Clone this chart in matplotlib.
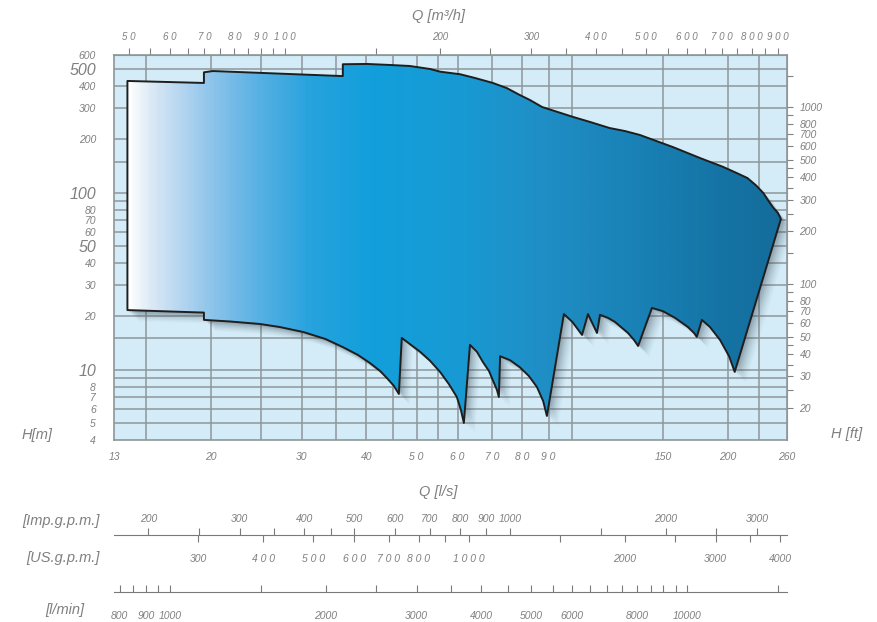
import numpy as np
import matplotlib
matplotlib.use('Agg')
import matplotlib.pyplot as plt
import matplotlib.patheffects as pe
from matplotlib.patches import Polygon
from matplotlib.image import AxesImage
from matplotlib.colors import LinearSegmentedColormap
from matplotlib.ticker import NullLocator, NullFormatter

plt.rcParams['font.family'] = ['Liberation Sans', 'DejaVu Sans']
plt.rcParams['font.style'] = 'italic'

# Axis ranges: Q in l/s, H in m
q_min, q_max = 13, 260
h_min, h_max = 4, 600

# Envelope of the pump range, upper edge from left to right
top_q = [13.8, 19.4, 19.4, 20.2, 36.0, 36.0, 40.1, 44.4, 48.5, 53.1, 55.5, 60.7,
         64.8, 70.2, 74.7, 79.2, 82.8, 87.4, 100.3, 108.2, 118, 126.4, 135, 156.5,
         176.5, 195.5, 208, 218, 226.5, 234, 238.8, 244, 249.7, 253]
top_h = [428, 417, 479, 487, 456, 532, 534, 527, 520, 500, 483, 467,
         445, 417, 390, 356, 334, 305, 268, 251, 232, 223, 212, 181,
         157, 140, 129, 121, 110, 99.6, 90.9, 83, 76.8, 71]

# lower edge from right to left
bottom_q = [206, 200.9, 193, 184.5, 178,
            174, 171.9, 167.3, 158, 149.6, 142.5,
            134, 131.6, 128.1, 120.9, 117.2, 113.1,
            111.6, 107.2, 104.4, 100, 96.3,
            89.3, 87.8, 85.4, 82.4, 79.2, 75.8, 72.5,
            72.1, 71.5, 70.2, 69.0, 67.2, 65.4, 63.4,
            61.7, 60.9, 59.8, 57.7, 55.5, 53.1, 50.8, 48.5, 46.8,
            46.2, 45.2, 43.8, 42.5, 40.6, 38.5, 36.0, 33.3, 30.2, 27.2, 24.9, 21.8,
            19.4, 19.4, 13.8]
bottom_h = [9.7, 11.9, 14.7, 17.4, 19.1,
            15.3, 16.1, 17.4, 19.6, 21.4, 22.3,
            13.6, 14.7, 16.1, 18.6, 19.6, 20.4,
            16.1, 20.6, 15.7, 18.6, 20.6,
            5.47, 6.65, 7.98, 9.2, 10.3, 11.3, 11.9,
            7.0, 7.67, 8.7, 9.82, 11.0, 12.6, 13.8,
            4.99, 5.91, 7.0, 8.29, 9.7, 11.2, 12.6, 13.95, 15.1,
            7.28, 8.08, 8.96, 9.82, 10.9, 12.1, 13.4, 14.9, 16.3, 17.4, 18.1, 18.7,
            19.1, 21.0, 21.7]

grid_q = [15, 20, 25, 30, 35, 40, 45, 50, 55, 60, 70, 80, 90, 100, 150, 200, 230]
grid_h = [5, 6, 7, 8, 9, 10, 15, 20, 30, 40, 50, 60, 70, 80, 90, 100, 150, 200, 300, 400, 500]

ls_ticks = [13, 20, 30, 40, 50, 60, 70, 80, 90, 150, 200, 260]
ls_labels = ['13', '20', '30', '40', '5 0', '6 0', '7 0', '8 0', '9 0', '150', '200', '260']

m3h_ticks = [50, 60, 70, 80, 90, 100, 200, 300, 400, 500, 600, 700, 800, 900]
m3h_labels = ['5 0', '6 0', '7 0', '8 0', '9 0', '1 0 0', '200', '300',
              '4 0 0', '5 0 0', '6 0 0', '7 0 0', '8 0 0', '9 0 0']
m3h_minor = [55, 65, 75, 85, 95, 150, 250, 350, 450, 550, 650, 750, 850]

hm_ticks = [4, 5, 6, 7, 8, 10, 20, 30, 40, 50, 60, 70, 80, 100, 200, 300, 400, 500, 600]
hm_big = [10, 50, 100, 500]

ft_ticks = [20, 30, 40, 50, 60, 70, 80, 100, 200, 300, 400, 500, 600, 700, 800, 1000]
ft_minor = [25, 35, 45, 90, 150, 250, 350, 450, 900, 1500]

imp_ticks = [200, 300, 400, 500, 600, 700, 800, 900, 1000, 2000, 3000]
imp_minor = [250, 350, 450, 1500, 2500]
us_ticks = [300, 400, 500, 600, 700, 800, 1000, 2000, 3000, 4000]
us_labels = ['300', '4 0 0', '5 0 0', '6 0 0', '7 0 0', '8 0 0', '1 0 0 0', '2000', '3000', '4000']
us_minor = [900, 1500, 2500, 3500]
lmin_ticks = [800, 900, 1000, 2000, 3000, 4000, 5000, 6000, 8000, 10000]
lmin_minor = [850, 950, 1500, 2500, 3500, 4500, 5500, 6500, 7000, 7500, 8500, 9000, 9500, 15000]

# unit conversions from l/s and m
M3H_PER_LS = 3.6
IMP_PER_LS = 13.198
US_PER_LS = 15.850
LMIN_PER_LS = 60.0
M_PER_FT = 0.3048

gray = '#808080'
grid_col = '#8e969b'
tick_fs = 7.5

fig = plt.figure(figsize=(8.77, 6.22), dpi=100)
L, W = 114 / 877, 673 / 877
ax = fig.add_axes([L, 1 - 440 / 622, W, 385 / 622])
ax.set_xscale('log')
ax.set_yscale('log')
ax.set_xlim(q_min, q_max)
ax.set_ylim(h_min, h_max)
ax.set_facecolor('#d3ecf8')
for s in ax.spines.values():
    s.set_color(grid_col)
    s.set_linewidth(1.2)

for q in grid_q:
    ax.axvline(q, color=grid_col, lw=1.1, zorder=1)
for h in grid_h:
    ax.axhline(h, color=grid_col, lw=1.1, zorder=1)

verts = np.column_stack([top_q + bottom_q, top_h + bottom_h])

# soft drop shadow
shadow = Polygon(verts, closed=True, facecolor='none', edgecolor='none', zorder=2,
                 path_effects=[pe.SimplePatchShadow(offset=(o, -o), shadow_rgbFace='#3a4a55', alpha=a)
                               for o, a in [(1, 0.12), (2, 0.1), (3, 0.09), (4, 0.07),
                                            (5, 0.06), (6, 0.05), (7, 0.04), (8, 0.03)]])
ax.add_patch(shadow)

outline = Polygon(verts, closed=True, facecolor='none', edgecolor='#1e1e1e', lw=1.4,
                  joinstyle='round', zorder=4)
ax.add_patch(outline)

cmap = LinearSegmentedColormap.from_list('env', [
    (0.0, '#ffffff'), (0.02, '#ffffff'), (0.053, '#dbe9f6'), (0.098, '#b5d5f0'),
    (0.15, '#88c2ea'), (0.217, '#55b0e3'), (0.291, '#27a3de'), (0.38, '#129fdb'),
    (0.5, '#179bd5'), (0.633, '#1f8fc6'), (0.782, '#1981b5'), (0.9, '#1574a5'),
    (1.0, '#146c9a')])
im = AxesImage(ax, cmap=cmap, extent=(0, 1, 0, 1), transform=ax.transAxes,
               interpolation='bilinear', zorder=3)
im.set_data(np.linspace(0, 1, 600).reshape(1, -1))
ax.add_image(im)
im.set_clip_path(outline)

# bottom axis, l/s
ax.set_xticks(ls_ticks, labels=ls_labels)
ax.xaxis.set_minor_locator(NullLocator())
ax.tick_params(axis='x', which='both', length=0, pad=9, labelsize=tick_fs, labelcolor=gray)

# left axis, m
ax.set_yticks(hm_ticks, labels=[str(v) for v in hm_ticks])
ax.yaxis.set_minor_locator(NullLocator())
ax.tick_params(axis='y', which='both', length=0, pad=13, labelsize=tick_fs, labelcolor=gray)
for lbl, v in zip(ax.get_yticklabels(), hm_ticks):
    if v in hm_big:
        lbl.set_fontsize(11.5)

# top axis, m3/h
secx = ax.secondary_xaxis('top', functions=(lambda q: np.asarray(q) * M3H_PER_LS,
                                            lambda m: np.asarray(m) / M3H_PER_LS))
secx.set_xticks(m3h_ticks, labels=m3h_labels)
secx.set_xticks(m3h_minor, minor=True)
secx.xaxis.set_minor_formatter(NullFormatter())
secx.tick_params(which='both', direction='out', length=5, width=0.8, color=gray,
                 labelsize=7, labelcolor=gray, pad=4)
secx.spines['top'].set_color(grid_col)

# right axis, ft
secy = ax.secondary_yaxis('right', functions=(lambda h: np.asarray(h) / M_PER_FT,
                                              lambda f: np.asarray(f) * M_PER_FT))
secy.set_yticks(ft_ticks, labels=[str(v) for v in ft_ticks])
secy.set_yticks(ft_minor, minor=True)
secy.yaxis.set_minor_formatter(NullFormatter())
secy.tick_params(which='both', direction='out', length=4, width=0.8, color=gray,
                 labelsize=tick_fs, labelcolor=gray, pad=5)
secy.spines['right'].set_color(grid_col)

fig.text(438 / 877, 1 - 16 / 622, 'Q [m³/h]', ha='center', va='center', fontsize=10.5, color=gray)
fig.text(438 / 877, 1 - 492 / 622, 'Q [l/s]', ha='center', va='center', fontsize=10.5, color=gray)
fig.text(37 / 877, 1 - 435 / 622, 'H[m]', ha='center', va='center', fontsize=10.5, color=gray)
fig.text(847 / 877, 1 - 434 / 622, 'H [ft]', ha='center', va='center', fontsize=10.5, color=gray)


def scale_axes(y_px, factor):
    a = fig.add_axes([L, 1 - y_px / 622, W, 1e-4])
    a.set_xscale('log')
    a.set_xlim(q_min * factor, q_max * factor)
    a.set_yticks([])
    a.patch.set_visible(False)
    for s in a.spines.values():
        s.set_visible(False)
    return a


# Imp. g.p.m. above the line, US g.p.m. below it
ax_imp = scale_axes(535, IMP_PER_LS)
ax_imp.spines['top'].set_visible(True)
ax_imp.spines['top'].set_color('#7a7a7a')
ax_imp.xaxis.set_ticks_position('top')
ax_imp.set_xticks(imp_ticks, labels=[str(v) for v in imp_ticks])
ax_imp.set_xticks(imp_minor, minor=True)
ax_imp.xaxis.set_minor_formatter(NullFormatter())
ax_imp.tick_params(axis='x', which='both', direction='out', length=5, width=0.8, color='#7a7a7a',
                   top=True, bottom=False, labeltop=True, labelbottom=False,
                   labelsize=tick_fs, labelcolor=gray, pad=3)

ax_us = scale_axes(535, US_PER_LS)
ax_us.set_xticks(us_ticks, labels=us_labels)
ax_us.set_xticks(us_minor, minor=True)
ax_us.xaxis.set_minor_formatter(NullFormatter())
ax_us.tick_params(axis='x', which='both', direction='out', length=5, width=0.8, color='#7a7a7a',
                  labelsize=tick_fs, labelcolor=gray, pad=9)

# l/min
ax_lm = scale_axes(592, LMIN_PER_LS)
ax_lm.spines['top'].set_visible(True)
ax_lm.spines['top'].set_color('#7a7a7a')
ax_lm.set_xticks(lmin_ticks, labels=[str(v) for v in lmin_ticks])
ax_lm.set_xticks(lmin_minor, minor=True)
ax_lm.xaxis.set_minor_formatter(NullFormatter())
ax_lm.tick_params(axis='x', which='both', direction='out', length=5, width=0.8, color='#7a7a7a',
                  top=True, bottom=False, labeltop=False, labelbottom=True,
                  labelsize=tick_fs, labelcolor=gray, pad=9)

fig.text(100 / 877, 1 - 521 / 622, '[Imp.g.p.m.]', ha='right', va='center', fontsize=10.5, color=gray)
fig.text(100 / 877, 1 - 558 / 622, '[US.g.p.m.]', ha='right', va='center', fontsize=10.5, color=gray)
fig.text(84 / 877, 1 - 610 / 622, '[l/min]', ha='right', va='center', fontsize=10.5, color=gray)

fig.savefig('out.png', dpi=100)
